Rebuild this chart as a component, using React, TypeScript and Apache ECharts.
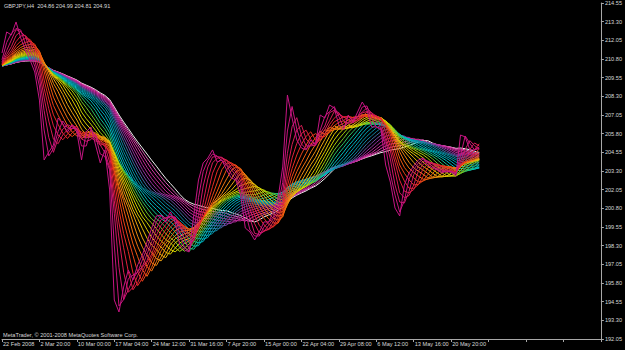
import React, { useEffect, useRef } from "react";
import * as echarts from "echarts";

const header = "GBPJPY,H4  204.86 204.99 204.81 204.91";
const copyright = "MetaTrader, \u00A9 2001-2008 MetaQuotes Software Corp.";

const dateLabels = [
  "22 Feb 2008", "2 Mar 20:00", "10 Mar 00:00", "17 Mar 04:00", "24 Mar 12:00",
  "31 Mar 16:00", "7 Apr 20:00", "15 Apr 00:00", "22 Apr 04:00", "29 Apr 08:00",
  "6 May 12:00", "13 May 16:00", "20 May 20:00",
];
const slotsPerLabel = 8;
const totalSlots = 129;

// closes, one every 4 bars (H4)
const closes = [
  211.20, 212.61, 212.41, 213.28, 212.21, 211.40, 210.73, 209.93, 208.05, 204.04,
  204.57, 205.04, 206.85, 206.45, 205.91, 206.38, 205.91, 204.04, 205.91, 206.25,
  205.04, 203.84, 204.71, 202.03, 194.66, 193.86, 195.53, 196.67, 196.00, 197.01,
  197.68, 198.55, 199.48, 200.29, 200.35, 199.89, 200.56, 199.89, 198.35, 198.01,
  197.88, 200.35, 202.70, 203.84, 204.17, 204.71, 203.90, 204.04, 203.37, 202.83,
  202.70, 201.69, 199.48, 199.22, 198.68, 199.22, 199.89, 199.89, 200.56, 201.49,
  203.57, 208.39, 206.85, 205.38, 204.84, 204.71, 205.38, 205.04, 207.05, 206.85,
  207.72, 207.52, 206.38, 206.05, 207.05, 206.58, 207.25, 207.92, 207.39, 206.25,
  206.25, 206.05, 203.70, 202.56, 200.82, 200.29, 202.36, 203.17, 203.64, 204.04,
  204.17, 203.70, 203.50, 203.37, 203.17, 203.30, 203.23, 202.97, 205.71, 205.58,
  204.71, 204.71, 204.91,
];
const lastClose = 204.91;
// level of the history before the first visible bar
const priorLevel = 210.3;

// simple moving-average lengths (in 4-bar slots), fast -> slow
const maPeriods = [
  2, 3, 4, 5, 6, 7, 8, 9, 10, 11, 12, 13, 14, 15, 16,
  17, 18, 19, 20, 21, 22, 23, 24, 25, 26, 27, 28, 29, 30, 31,
];

const yMin = 192.05;
const yMax = 214.55;
const yStep = 1.25;

const palette = [
  "#C8147C", "#D0186A", "#D81C54", "#E0203C", "#E82C24", "#EC4418", "#F05C10", "#F07410",
  "#F08C10", "#F0A410", "#E8BC08", "#E0CC00", "#D0D400", "#A8D008", "#70C828", "#30C060",
  "#10C098", "#00C0C0", "#00B0C0", "#00A0B0", "#0890A4", "#1480A0", "#4068A0", "#7048A0",
  "#9830A0", "#B42898", "#C82898", "#D838A8", "#E060B8", "#F0F0F0",
];
const priceColor = "#C71585";
const textColor = "#D8D8D8";
const axisColor = "#A8A8A8";
const fontFamily = "'Liberation Sans', Arial, sans-serif";
const fs = 5.6;

function sma(src: number[], period: number, prior: number): number[] {
  return src.map((_, i) => {
    let s = 0;
    for (let j = i - period + 1; j <= i; j++) s += j < 0 ? prior : src[j];
    return Math.round((s / period) * 1000) / 1000;
  });
}

export default function App() {
  const ref = useRef<HTMLDivElement>(null);
  useEffect(() => {
    if (!ref.current) return;
    const chart = echarts.init(ref.current, null, { renderer: "svg" });
    const categories: string[] = [];
    for (let i = 0; i < totalSlots; i++) {
      categories.push(i % slotsPerLabel === 0 ? dateLabels[i / slotsPerLabel] || "" : "");
    }
    const n = maPeriods.length;
    const maSeries: any[] = [];
    for (let k = n - 1; k >= 0; k--) {
      maSeries.push({
        type: "line",
        data: sma(closes, maPeriods[k], priorLevel),
        symbol: "none",
        silent: true,
        lineStyle: { width: 1, color: palette[k] },
      });
    }
    maSeries.push({
      type: "line",
      data: closes,
      symbol: "none",
      silent: true,
      lineStyle: { width: 1, color: priceColor },
      markLine: {
        silent: true,
        symbol: ["none", "none"],
        lineStyle: { opacity: 0 },
        data: [{ yAxis: lastClose }],
        label: {
          position: "end",
          distance: 2,
          formatter: lastClose.toFixed(2),
          backgroundColor: "#FFFFFF",
          color: "#000000",
          fontSize: fs,
          fontFamily,
          padding: [1, 1, 0, 1],
        },
      },
    });
    chart.setOption({
      animation: false,
      backgroundColor: "#000000",
      grid: { left: 2, right: 23, top: 3, bottom: 11 },
      xAxis: {
        type: "category",
        data: categories,
        boundaryGap: false,
        axisLine: { lineStyle: { color: axisColor, width: 1 } },
        axisTick: {
          interval: (i: number) => i % slotsPerLabel === 0,
          length: 3,
          lineStyle: { color: axisColor },
        },
        axisLabel: {
          interval: (i: number) => i % slotsPerLabel === 0,
          align: "left",
          color: textColor,
          fontSize: fs,
          fontFamily,
          margin: 2,
          padding: [0, 0, 0, 1],
        },
        splitLine: { show: false },
      },
      yAxis: {
        type: "value",
        position: "right",
        min: yMin,
        max: yMax,
        interval: yStep,
        axisLine: { show: true, lineStyle: { color: axisColor, width: 1 } },
        axisTick: { show: true, length: 3, lineStyle: { color: axisColor } },
        axisLabel: {
          color: textColor,
          fontSize: fs,
          fontFamily,
          margin: 4,
          formatter: (v: number) => v.toFixed(2),
        },
        splitLine: { show: false },
      },
      graphic: [
        {
          type: "text",
          left: 4,
          top: 3,
          style: { text: header, fill: textColor, fontSize: fs, fontFamily },
        },
        {
          type: "text",
          left: 3,
          top: 332,
          style: { text: copyright, fill: textColor, fontSize: fs, fontFamily },
        },
      ],
      series: maSeries,
    });
    return () => chart.dispose();
  }, []);
  return (
    <div
      ref={ref}
      style={{ position: "fixed", left: 0, top: 0, width: 625, height: 350 }}
    />
  );
}
